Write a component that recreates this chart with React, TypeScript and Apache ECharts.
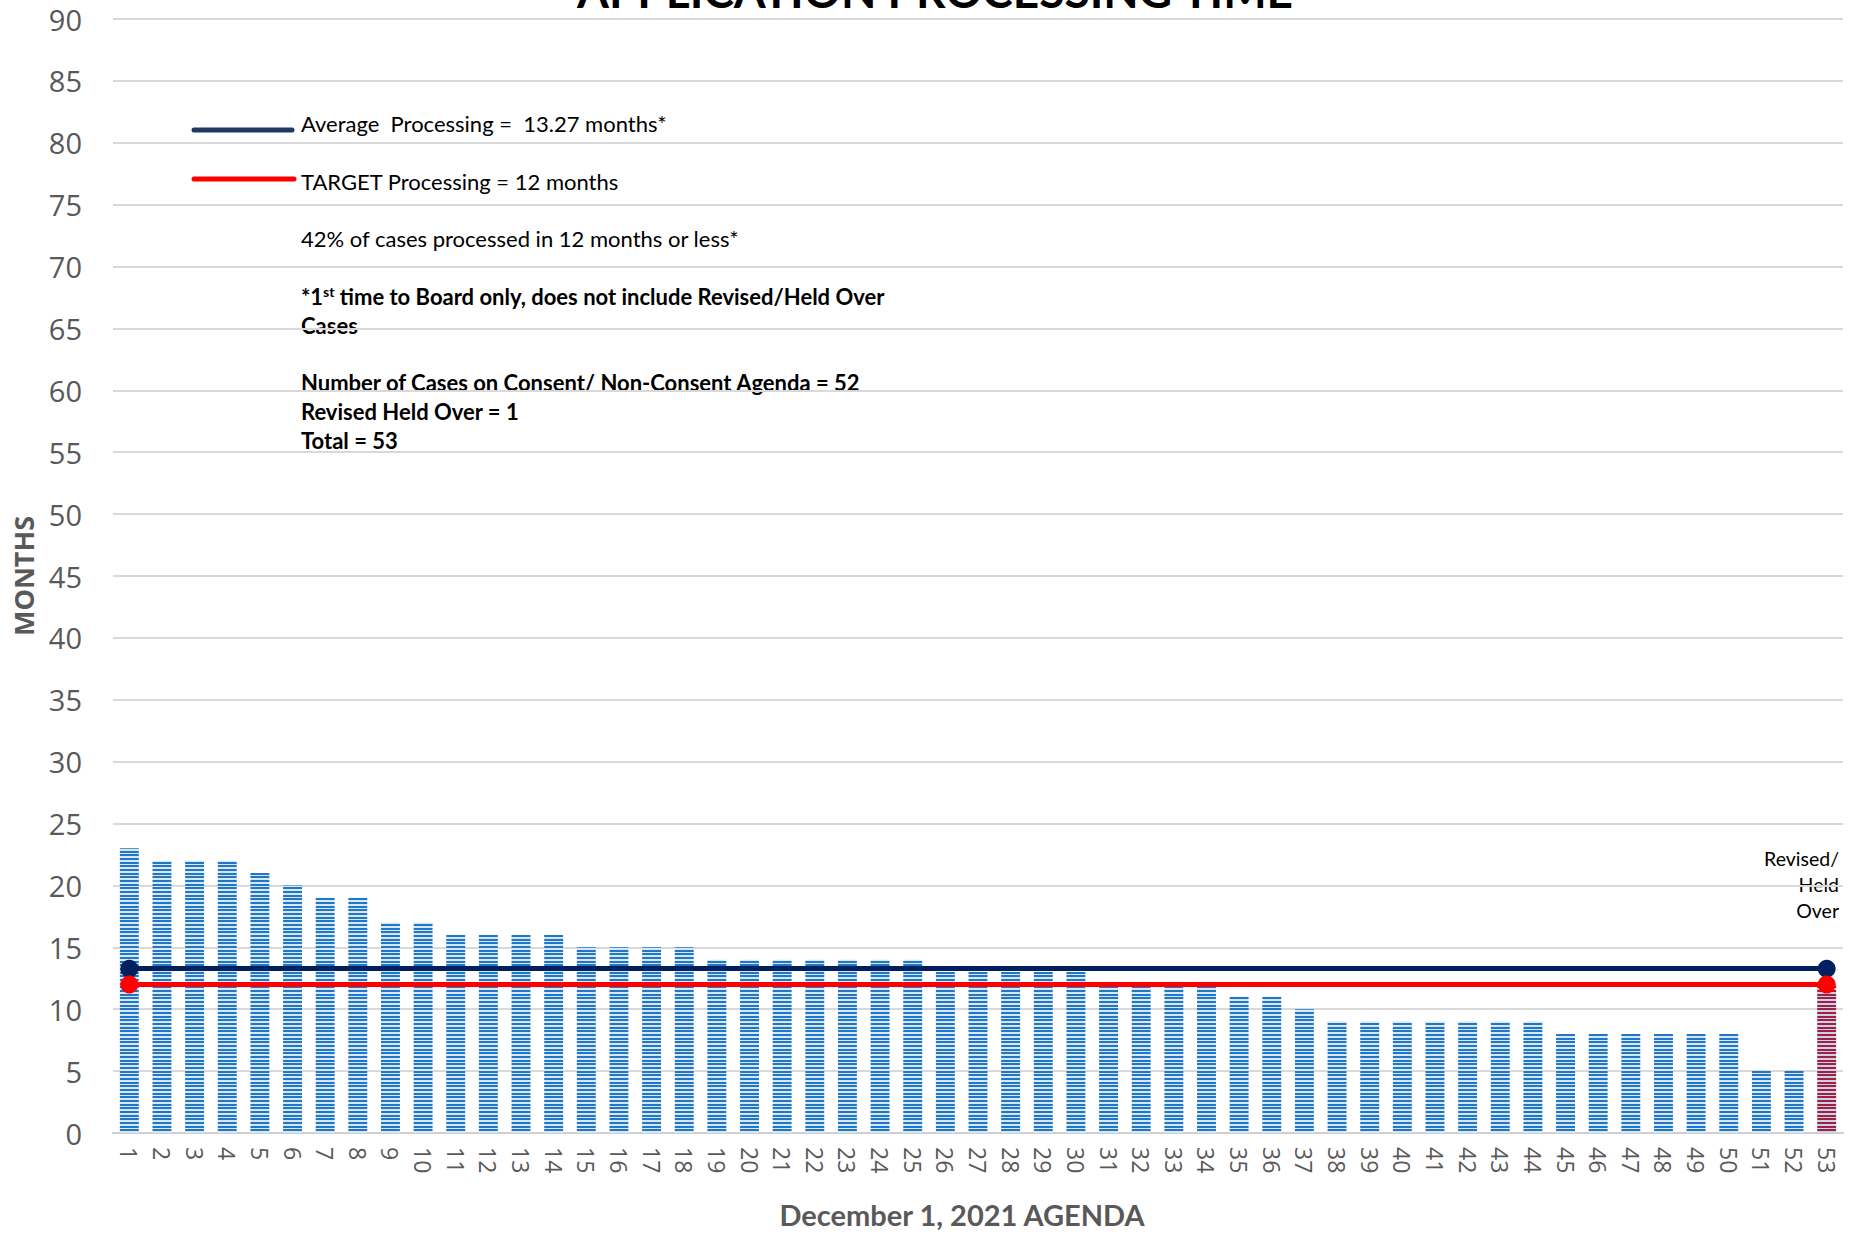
import React, { useEffect, useRef } from "react";
import * as echarts from "echarts";

// Agenda item numbers along the x axis
const CASES = [
  "1", "2", "3", "4", "5", "6", "7", "8", "9", "10",
  "11", "12", "13", "14", "15", "16", "17", "18", "19", "20",
  "21", "22", "23", "24", "25", "26", "27", "28", "29", "30",
  "31", "32", "33", "34", "35", "36", "37", "38", "39", "40",
  "41", "42", "43", "44", "45", "46", "47", "48", "49", "50",
  "51", "52", "53",
];

// Months from filing to hearing for each case
const MONTHS = [
  23, 22, 22, 22, 21, 20, 19, 19, 17, 17,
  16, 16, 16, 16, 15, 15, 15, 15, 14, 14,
  14, 14, 14, 14, 14, 13, 13, 13, 13, 13,
  12, 12, 12, 12, 11, 11, 10, 9, 9, 9,
  9, 9, 9, 9, 8, 8, 8, 8, 8, 8,
  5, 5, 12,
];

// The last case is the revised / held over one
const HELD_OVER_CASE = "53";

const AVERAGE_MONTHS = 13.27;
const TARGET_MONTHS = 12;

const LEGEND_LINES = [
  "Average  Processing =  13.27 months*",
  "TARGET Processing = 12 months",
  "42% of cases processed in 12 months or less*",
];
const SUMMARY_LINES = [
  "Number of Cases on Consent/ Non-Consent Agenda = 52",
  "Revised Held Over = 1",
  "Total = 53",
];

const BODY_FONT = "Lato, 'Open Sans', sans-serif";
const AXIS_FONT = "'Open Sans', 'Noto Sans', sans-serif";

// Horizontal pin-stripe fill used for the bars
function stripes(fg: string, bg: string) {
  const c = document.createElement("canvas");
  c.width = 4;
  c.height = 11;
  const ctx = c.getContext("2d")!;
  ctx.fillStyle = bg;
  ctx.fillRect(0, 0, 4, 11);
  ctx.fillStyle = fg;
  ctx.fillRect(0, 0, 4, 2);
  ctx.fillRect(0, 4, 4, 2);
  ctx.fillRect(0, 7, 4, 2);
  return { image: c, repeat: "repeat" as const };
}

export default function App() {
  const ref = useRef<HTMLDivElement>(null);

  useEffect(() => {
    if (!ref.current) return;
    const chart = echarts.init(ref.current, undefined, { renderer: "svg" });

    const blueFill = stripes("#1f77c7", "#d9e6f4");
    const redFill = stripes("#a2203f", "#c6d3ea");

    const barData = MONTHS.map((v, i) =>
      CASES[i] === HELD_OVER_CASE
        ? { value: v, itemStyle: { color: redFill } }
        : { value: v }
    );

    const first = CASES[0];
    const last = CASES[CASES.length - 1];

    const body = (t: string, y: number, bold = false) => ({
      type: "text",
      x: 301,
      y,
      style: {
        text: t,
        fill: "#000",
        font: `${bold ? "bold " : ""}22px ${BODY_FONT}`,
        verticalAlign: "middle",
      },
    });

    chart.setOption({
      animation: false,
      backgroundColor: "#ffffff",
      grid: { left: 113, right: 14, top: 19, bottom: 101, containLabel: false },
      xAxis: {
        type: "category",
        data: CASES,
        axisLine: { show: true, lineStyle: { color: "#cfcfcf", width: 2 } },
        axisTick: { show: false },
        axisLabel: {
          rotate: -90,
          interval: 0,
          margin: 14,
          color: "#595959",
          fontFamily: AXIS_FONT,
          fontSize: 23,
        },
        name: "December 1, 2021 AGENDA",
        nameLocation: "middle",
        nameGap: 67,
        nameTextStyle: {
          color: "#595959",
          fontFamily: BODY_FONT,
          fontWeight: "bold",
          fontSize: 29,
          padding: [0, 32, 0, 0],
        },
      },
      yAxis: {
        type: "value",
        min: 0,
        max: 90,
        interval: 5,
        axisLine: { show: false },
        axisTick: { show: false },
        splitLine: { lineStyle: { color: "#d9d9d9", width: 2 } },
        axisLabel: {
          margin: 31,
          color: "#595959",
          fontFamily: AXIS_FONT,
          fontSize: 29,
        },
        name: "MONTHS",
        nameLocation: "middle",
        nameGap: 76,
        nameTextStyle: {
          color: "#595959",
          fontFamily: AXIS_FONT,
          fontWeight: "bold",
          fontSize: 27,
        },
      },
      series: [
        {
          type: "bar",
          data: barData,
          barWidth: "58%",
          itemStyle: { color: blueFill },
          markLine: {
            silent: true,
            symbol: ["circle", "circle"],
            symbolSize: 18,
            label: { show: false },
            emphasis: { disabled: true },
            data: [
              [
                { coord: [first, AVERAGE_MONTHS], lineStyle: { color: "#002060", width: 5, type: "solid" }, itemStyle: { color: "#002060" } },
                { coord: [last, AVERAGE_MONTHS] },
              ],
              [
                { coord: [first, TARGET_MONTHS], lineStyle: { color: "#ff0000", width: 5, type: "solid" }, itemStyle: { color: "#ff0000" } },
                { coord: [last, TARGET_MONTHS] },
              ],
            ],
          },
        },
      ],
      graphic: [
        {
          type: "text",
          x: 935,
          y: -33,
          style: {
            text: "APPLICATION PROCESSING TIME",
            fill: "#000000",
            font: `bold 46px ${BODY_FONT}`,
            align: "center",
          },
        },
        {
          type: "line",
          shape: { x1: 194, y1: 130, x2: 292, y2: 130 },
          style: { stroke: "#1f3864", lineWidth: 5, lineCap: "round" },
        },
        {
          type: "line",
          shape: { x1: 194, y1: 179, x2: 294, y2: 179 },
          style: { stroke: "#ff0000", lineWidth: 5, lineCap: "round" },
        },
        body(LEGEND_LINES[0], 123),
        body(LEGEND_LINES[1], 181),
        body(LEGEND_LINES[2], 238),
        {
          type: "text",
          x: 301,
          y: 296,
          style: {
            text: "{b|*1}{s|st}{b| time to Board only, does not include Revised/Held Over}",
            verticalAlign: "middle",
            rich: {
              b: { fill: "#000", fontFamily: BODY_FONT, fontWeight: "bold", fontSize: 22 },
              s: { fill: "#000", fontFamily: BODY_FONT, fontWeight: "bold", fontSize: 14, verticalAlign: "top", padding: [0, 0, 9, 0] },
            },
          },
        },
        body("Cases", 325, true),
        ...SUMMARY_LINES.map((t, i) => body(t, 382 + i * 29, true)),
        {
          type: "text",
          x: 1839,
          y: 884,
          style: {
            text: "Revised/\nHeld\nOver",
            fill: "#000",
            font: `19.5px ${BODY_FONT}`,
            align: "right",
            verticalAlign: "middle",
            lineHeight: 26,
          },
        },
      ],
    });

    return () => chart.dispose();
  }, []);

  return <div ref={ref} style={{ width: 1857, height: 1234, position: "absolute", left: 0, top: 0 }} />;
}
